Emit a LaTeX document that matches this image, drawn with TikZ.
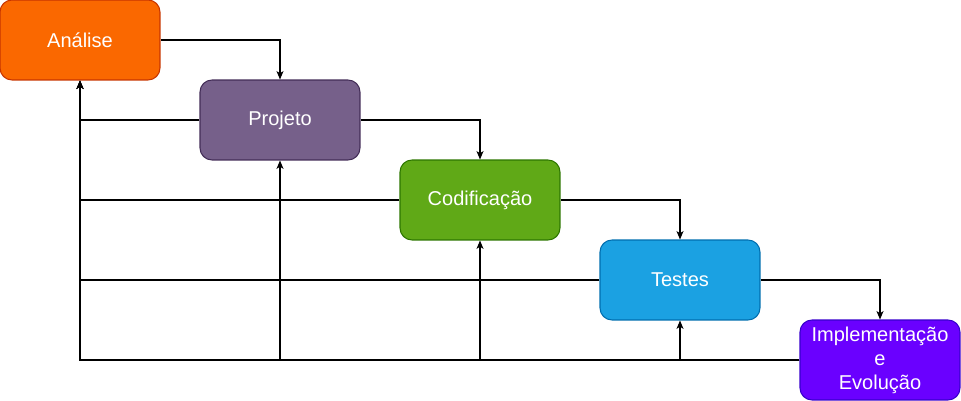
\documentclass[tikz,border=0pt]{standalone}
\usepackage{fontspec}
\setmainfont{Liberation Sans}
\RequirePackage{xcolor}
\definecolor{wforange}{RGB}{250,104,0}
\definecolor{wforangeline}{RGB}{199,53,0}
\definecolor{wfpurple}{RGB}{118,96,138}
\definecolor{wfpurpleline}{RGB}{67,45,87}
\definecolor{wfgreen}{RGB}{96,169,23}
\definecolor{wfgreenline}{RGB}{45,118,0}
\definecolor{wfblue}{RGB}{27,161,226}
\definecolor{wfblueline}{RGB}{0,110,175}
\definecolor{wfviolet}{RGB}{106,0,255}
\definecolor{wfvioletline}{RGB}{55,0,204}
\usetikzlibrary{arrows.meta}
\tikzset{
  phase/.style={rectangle, rounded corners=0.24cm, minimum width=3.2cm, minimum height=1.6cm,
    text=white, align=center, line width=0.6pt, font=\fontsize{11.4}{13.7}\selectfont},
  link/.style={line width=0.6pt, -{Stealth[length=4.8pt, width=4pt, inset=1.3pt]}},
}

\begin{document}
\begin{tikzpicture}[x=0.02cm, y=-0.02cm]
  \useasboundingbox (0,0) rectangle (961,401);

  % phases of the waterfall
  \node [phase, fill=wforange, draw=wforangeline] (ana) at (80,40) {Análise};
  \node [phase, fill=wfpurple, draw=wfpurpleline] (proj) at (280,120) {Projeto};
  \node [phase, fill=wfgreen, draw=wfgreenline] (cod) at (480,200) {Codificação};
  \node [phase, fill=wfblue, draw=wfblueline] (test) at (680,280) {Testes};
  \node [phase, fill=wfviolet, draw=wfvioletline] (impl) at (880,360) {Implementação\\e\\Evolução};

  % going down
  \draw [link] (ana.east) -| (proj.north);
  \draw [link] (proj.east) -| (cod.north);
  \draw [link] (cod.east) -| (test.north);
  \draw [link] (test.east) -| (impl.north);

  % going back
  \foreach \p in {proj, cod, test, impl} {
    \draw [link] (\p.west) -| (ana.south);
  }
  \foreach \p in {proj, cod, test} {
    \draw [link] (impl.west) -| (\p.south);
  }

\end{tikzpicture}
\end{document}
